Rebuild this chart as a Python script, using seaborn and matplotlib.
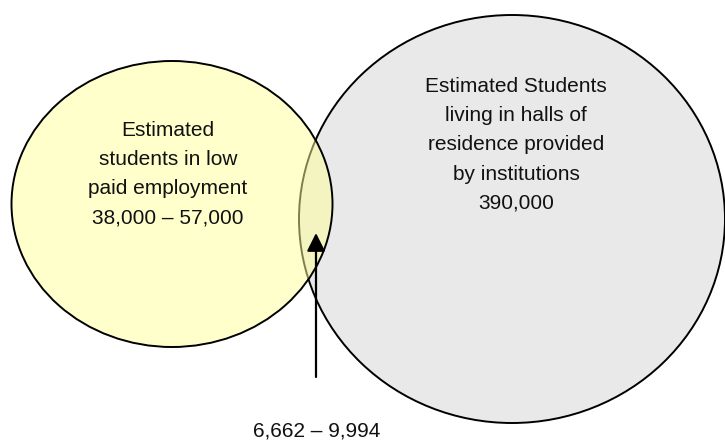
import matplotlib.pyplot as plt
import seaborn as sns
from matplotlib.patches import Ellipse, FancyArrowPatch

# Venn groups (label text)
groups = ['low_paid', 'halls']
group_titles = ['Estimated\nstudents in low\npaid employment',
                'Estimated Students\nliving in halls of\nresidence provided\nby institutions']
group_values = ['38,000 – 57,000', '390,000']
overlap_value = '6,662 – 9,994'

# layout (pixel coordinates of the 725x442 canvas)
W, H = 725, 442
ellipse_xy = {'low_paid': (172, 204), 'halls': (512, 219)}
ellipse_wh = {'low_paid': (321, 286), 'halls': (426, 408)}
text_xy = {'low_paid': (168, 174), 'halls': (516, 145)}
face = {'low_paid': (1.0, 1.0, 0.6, 0.5), 'halls': (0.914, 0.914, 0.914, 1.0)}

sns.set_theme(style='white')
plt.rcParams['font.family'] = ['Liberation Sans', 'DejaVu Sans']

fig = plt.figure(figsize=(W / 100, H / 100), dpi=100)
ax = fig.add_axes([0, 0, 1, 1])
ax.set_xlim(0, W)
ax.set_ylim(H, 0)
ax.axis('off')

# halls first, the yellow one sits on top with some transparency
for g in ['halls', 'low_paid']:
    e = Ellipse(ellipse_xy[g], *ellipse_wh[g], facecolor=face[g],
                edgecolor='black', lw=1.4)
    ax.add_patch(e)

for g, title, val in zip(groups, group_titles, group_values):
    x, y = text_xy[g]
    ax.text(x, y, title + '\n' + val, ha='center', va='center',
            fontsize=15, linespacing=1.68, color='#111111')

arrow = FancyArrowPatch((316, 377), (316, 233),
                        arrowstyle='-|>,head_length=1.1,head_width=0.55',
                        mutation_scale=10, lw=1.6, color='black',
                        shrinkA=0, shrinkB=0)
ax.add_patch(arrow)
ax.text(317, 431, overlap_value, ha='center', va='center',
        fontsize=15, color='#111111')

fig.savefig('out.png', dpi=100)
